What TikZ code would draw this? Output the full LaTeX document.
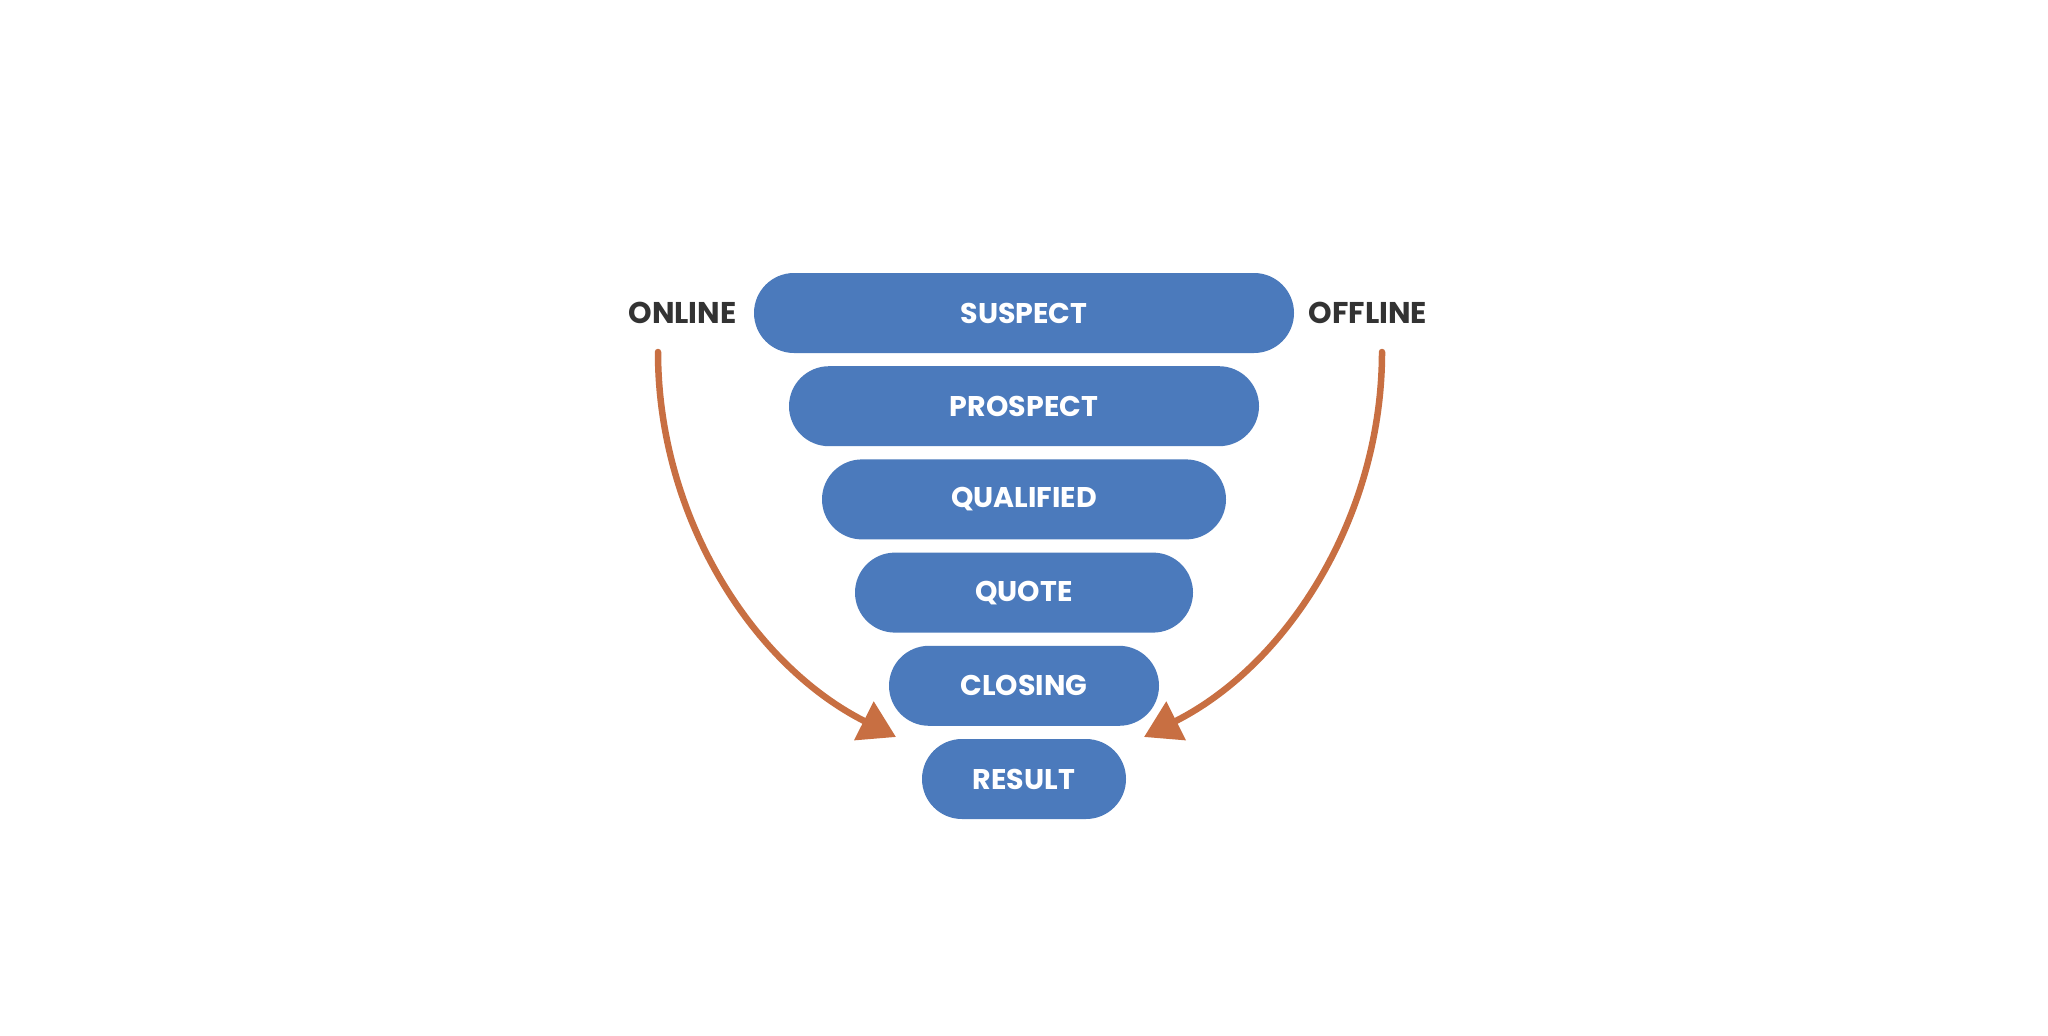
\documentclass[tikz,border=0pt]{standalone}
\usepackage{fontspec}
\setmainfont{Poppins}
\usetikzlibrary{arrows.meta}
\definecolor{barblue}{RGB}{75,122,188}
\definecolor{flowc}{RGB}{200,111,66}
\definecolor{lblc}{RGB}{51,51,51}
\tikzset{
  bar/.style={fill=barblue, draw=none, rounded corners=40pt, minimum height=80pt,
    inner sep=0pt, text=white, font=\fontsize{28.5}{34}\selectfont\bfseries},
  lbl/.style={text=lblc, inner sep=0pt, font=\fontsize{30}{36}\selectfont\bfseries},
  flow/.style={draw=flowc, line width=6.5pt, line cap=round,
    -{Triangle[length=36pt,width=42pt]}}
}
\begin{document}
\begin{tikzpicture}[x=1pt,y=-1pt]
\useasboundingbox[fill=white] (0,0) rectangle (2048,1036);
\node[bar, minimum width=540pt] (suspect)   at (1024,313)   {SUSPECT};
\node[bar, minimum width=470pt] (prospect)  at (1024,406.2) {PROSPECT};
\node[bar, minimum width=404pt] (qualified) at (1024,499.4) {QUALIFIED};
\node[bar, minimum width=338pt] (quote)     at (1024,592.6) {QUOTE};
\node[bar, minimum width=270pt] (closing)   at (1024,685.8) {CLOSING};
\node[bar, minimum width=204pt] (result)    at (1024,779)   {RESULT};
\node[lbl] (online)  at (682.5,313) {ONLINE};
\node[lbl] (offline) at (1368,313)  {OFFLINE};
\coordinate (onS)  at (658,352);
\coordinate (onE)  at (896,737);
\coordinate (offS) at (1382,352);
\coordinate (offE) at (1144,737);
\draw[flow] (onS) .. controls (658,515) and (751,664) .. (onE);
\draw[flow] (offS) .. controls (1382,515) and (1289,664) .. (offE);
\end{tikzpicture}
\end{document}
